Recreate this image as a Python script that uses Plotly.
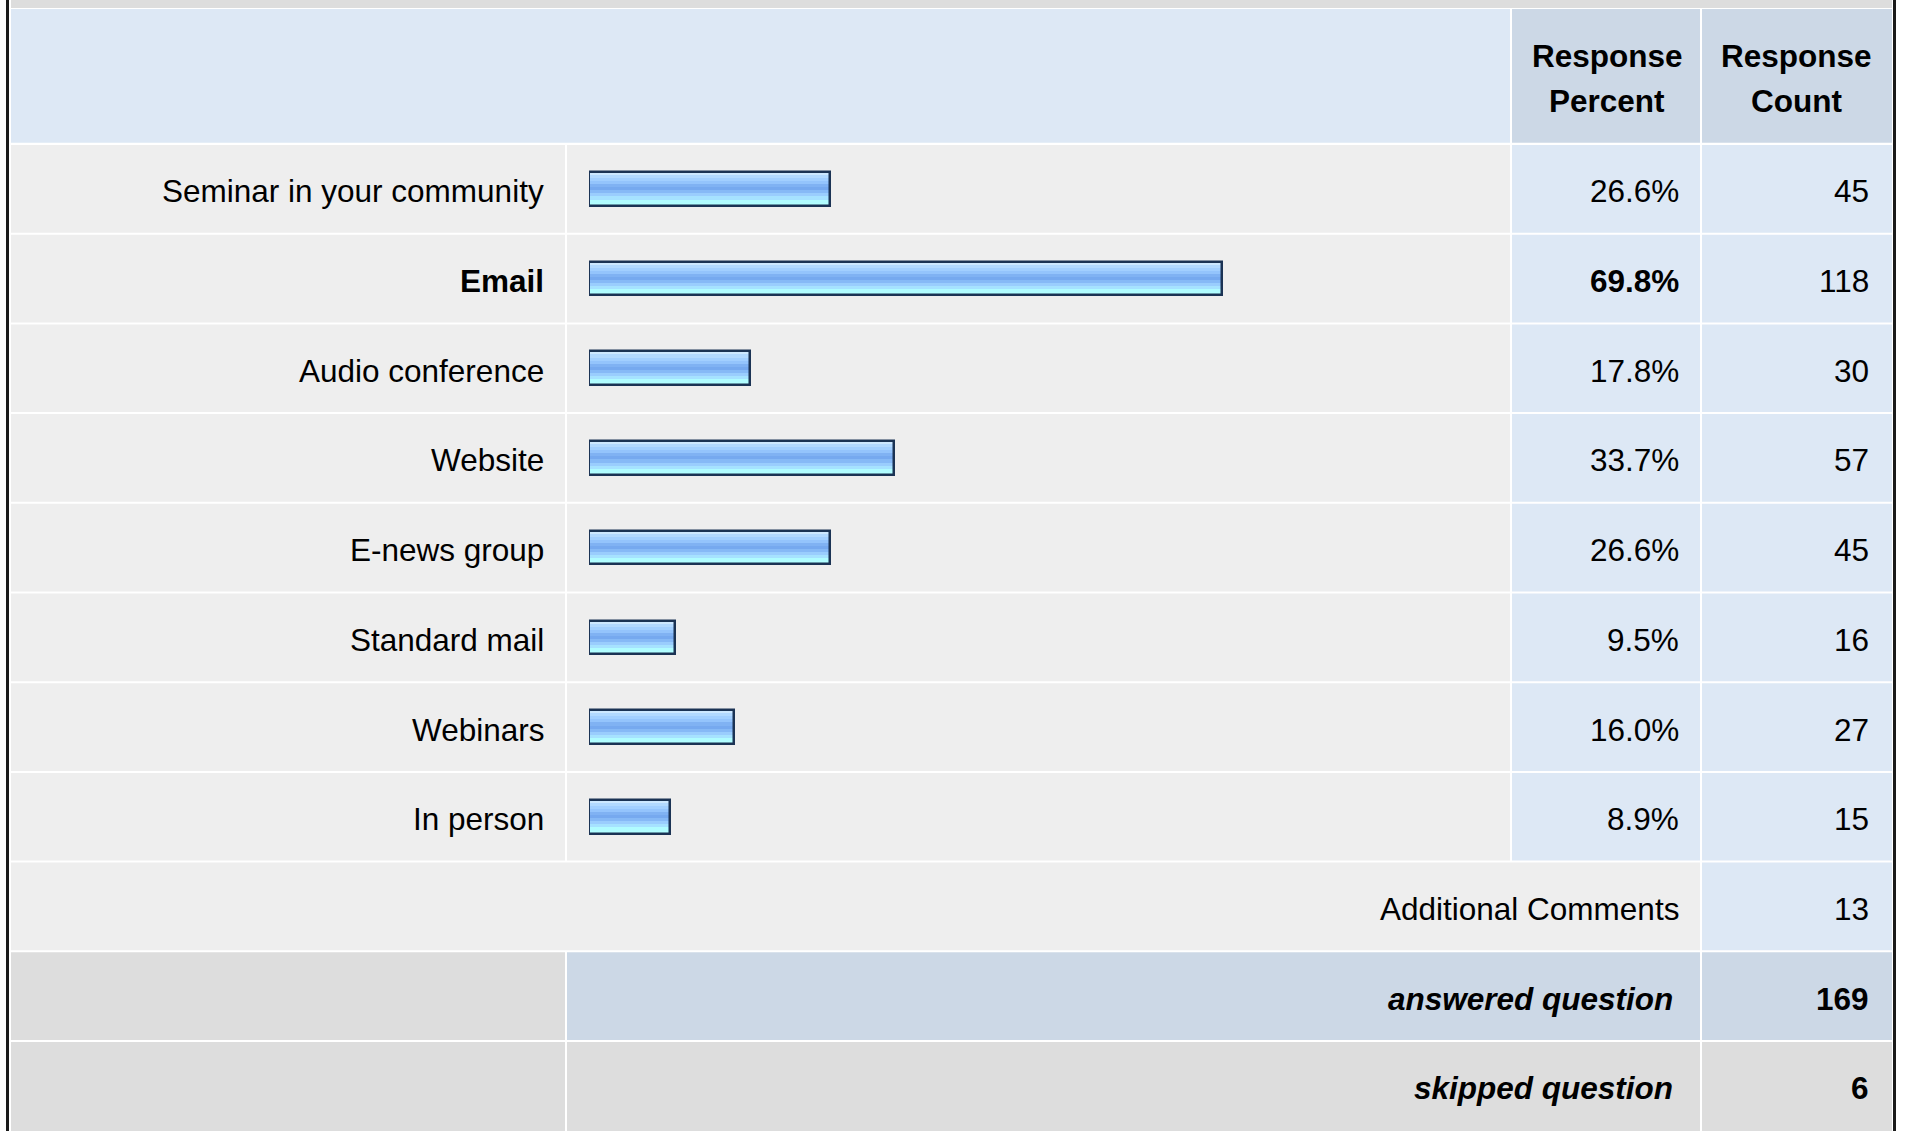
import plotly.graph_objects as go

# ---------------- data ----------------
categories = ["Seminar in your community", "Email", "Audio conference", "Website",
              "E-news group", "Standard mail", "Webinars", "In person"]
percents = [26.6, 69.8, 17.8, 33.7, 26.6, 9.5, 16.0, 8.9]
counts = [45, 118, 30, 57, 45, 16, 27, 15]
header_percent = ["Response", "Percent"]
header_count = ["Response", "Count"]
additional_label = "Additional Comments"
additional_count = 13
answered_label = "answered question"
answered_count = 169
skipped_label = "skipped question"
skipped_count = 6

# ---------------- layout constants (pixels) ----------------
W, H = 1907, 1131
FONT = "Liberation Sans, Arial, Helvetica, sans-serif"
FS = 31.5
ROW_TOP0 = 145.0
PITCH = 89.7
CELL_H = 87.7
C_LABEL = (11, 565)
C_BAR = (567, 1510)
C_PCT = (1512, 1700)
C_CNT = (1702, 1892)

LIGHT_BLUE = "#dde8f5"
MID_BLUE = "#ccd8e6"
LIGHT_GRAY = "#eeeeee"
MID_GRAY = "#dddddd"


def px(x):
    return x / W


def py(y):
    return 1 - y / H


shapes = []


def rect(x0, y0, x1, y1, color):
    shapes.append(dict(type="rect", xref="paper", yref="paper",
                       x0=px(x0), x1=px(x1), y0=py(y1), y1=py(y0),
                       fillcolor=color, line=dict(width=0), layer="below"))


# top strip and border lines
rect(11, 0, 1892, 8, MID_GRAY)
rect(6, 0, 9, H, "#1a1a1a")
rect(1893, 0, 1896, H, "#1a1a1a")

# header
rect(C_LABEL[0], 9, C_BAR[1], 142.7, LIGHT_BLUE)
rect(C_PCT[0], 9, C_PCT[1], 142.7, MID_BLUE)
rect(C_CNT[0], 9, C_CNT[1], 142.7, MID_BLUE)


def row_top(k):
    return ROW_TOP0 + k * PITCH


n = len(categories)
for k in range(n):
    t, b = row_top(k), row_top(k) + CELL_H
    rect(C_LABEL[0], t, C_LABEL[1], b, LIGHT_GRAY)
    rect(C_BAR[0], t, C_BAR[1], b, LIGHT_GRAY)
    rect(C_PCT[0], t, C_PCT[1], b, LIGHT_BLUE)
    rect(C_CNT[0], t, C_CNT[1], b, LIGHT_BLUE)

# additional comments row
t = row_top(n); b = t + CELL_H
rect(C_LABEL[0], t, C_PCT[1], b, LIGHT_GRAY)
rect(C_CNT[0], t, C_CNT[1], b, LIGHT_BLUE)
# answered row
t = row_top(n + 1); b = t + CELL_H
rect(C_LABEL[0], t, C_LABEL[1], b, MID_GRAY)
rect(C_BAR[0], t, C_PCT[1], b, MID_BLUE)
rect(C_CNT[0], t, C_CNT[1], b, MID_BLUE)
# skipped row
t = row_top(n + 2); b = max(t + CELL_H, H)
rect(C_LABEL[0], t, C_LABEL[1], b, MID_GRAY)
rect(C_BAR[0], t, C_PCT[1], b, MID_GRAY)
rect(C_CNT[0], t, C_CNT[1], b, MID_GRAY)

# ---------------- bars (gradient stripes) ----------------
fig = go.Figure()
BAR_W = 0.375
stripe_colors = ["#cde8ff", "#b2d9ff", "#a2cfff", "#94c4fc", "#80b2f3",
                 "#76a9ef", "#86b9f6", "#9acdfd", "#a6e2ff", "#b0fcff", "#b2ffff"]
ns = len(stripe_colors)
sw = BAR_W / ns
for i, c in enumerate(stripe_colors):
    fig.add_trace(go.Bar(
        y=categories, x=percents, orientation="h",
        width=sw * (1.35 if i < ns - 1 else 1.0), offset=-BAR_W / 2 + i * sw,
        marker=dict(color=c, line=dict(width=0)),
        hoverinfo="skip", showlegend=False))
fig.add_trace(go.Bar(
    y=categories, x=percents, orientation="h",
    width=BAR_W, offset=-BAR_W / 2,
    marker=dict(color="rgba(0,0,0,0)", line=dict(color="#1b3354", width=2.5)),
    hoverinfo="skip", showlegend=False))

# ---------------- text ----------------
ann = []
maxv = max(percents)


def txt(s, x, y, yref="paper", anchor="right", size=FS, yshift=0):
    ann.append(dict(text=s, x=px(x), y=y, xref="paper", yref=yref,
                    xanchor=anchor, yanchor="middle", showarrow=False,
                    yshift=yshift,
                    font=dict(family=FONT, size=size, color="#000000")))


for cat, p, c in zip(categories, percents, counts):
    bold = p == maxv
    lab = f"<b>{cat}</b>" if bold else cat
    ptxt = f"<b>{p:.1f}%</b>" if bold else f"{p:.1f}%"
    txt(lab, 546, cat, yref="y", yshift=-2.5)
    txt(ptxt, 1681, cat, yref="y", yshift=-2.5)
    txt(str(c), 1871, cat, yref="y", yshift=-2.5)

# header
txt(f"<b>{header_percent[0]}</b>", 1607, py(56), anchor="center")
txt(f"<b>{header_percent[1]}</b>", 1607, py(101), anchor="center")
txt(f"<b>{header_count[0]}</b>", 1796, py(56), anchor="center")
txt(f"<b>{header_count[1]}</b>", 1796, py(101), anchor="center")

cy = lambda k: py(row_top(k) + CELL_H / 2 + 2.5)
txt(additional_label, 1681, cy(n))
txt(str(additional_count), 1871, cy(n))
txt(f"<b><i>{answered_label}</i></b>", 1675, cy(n + 1))
txt(f"<b>{answered_count}</b>", 1871, cy(n + 1))
txt(f"<b><i>{skipped_label}</i></b>", 1675, cy(n + 2))
txt(f"<b>{skipped_count}</b>", 1871, cy(n + 2))

y_top = ROW_TOP0 - 1
y_bot = y_top + n * PITCH

fig.update_layout(
    width=W, height=H,
    margin=dict(l=0, r=0, t=0, b=0),
    paper_bgcolor="#ffffff", plot_bgcolor="rgba(0,0,0,0)",
    barmode="overlay", bargap=0,
    shapes=shapes, annotations=ann, showlegend=False,
    xaxis=dict(domain=[px(589), px(1495.5)], range=[0, 100], visible=False, fixedrange=True),
    yaxis=dict(domain=[py(y_bot), py(y_top)], type="category",
               categoryorder="array", categoryarray=categories,
               range=[n - 0.5, -0.5], visible=False, fixedrange=True),
)

fig.write_html("out.html", config={"displayModeBar": False},
               post_script="document.body.style.margin='0';document.body.style.overflow='hidden';")
